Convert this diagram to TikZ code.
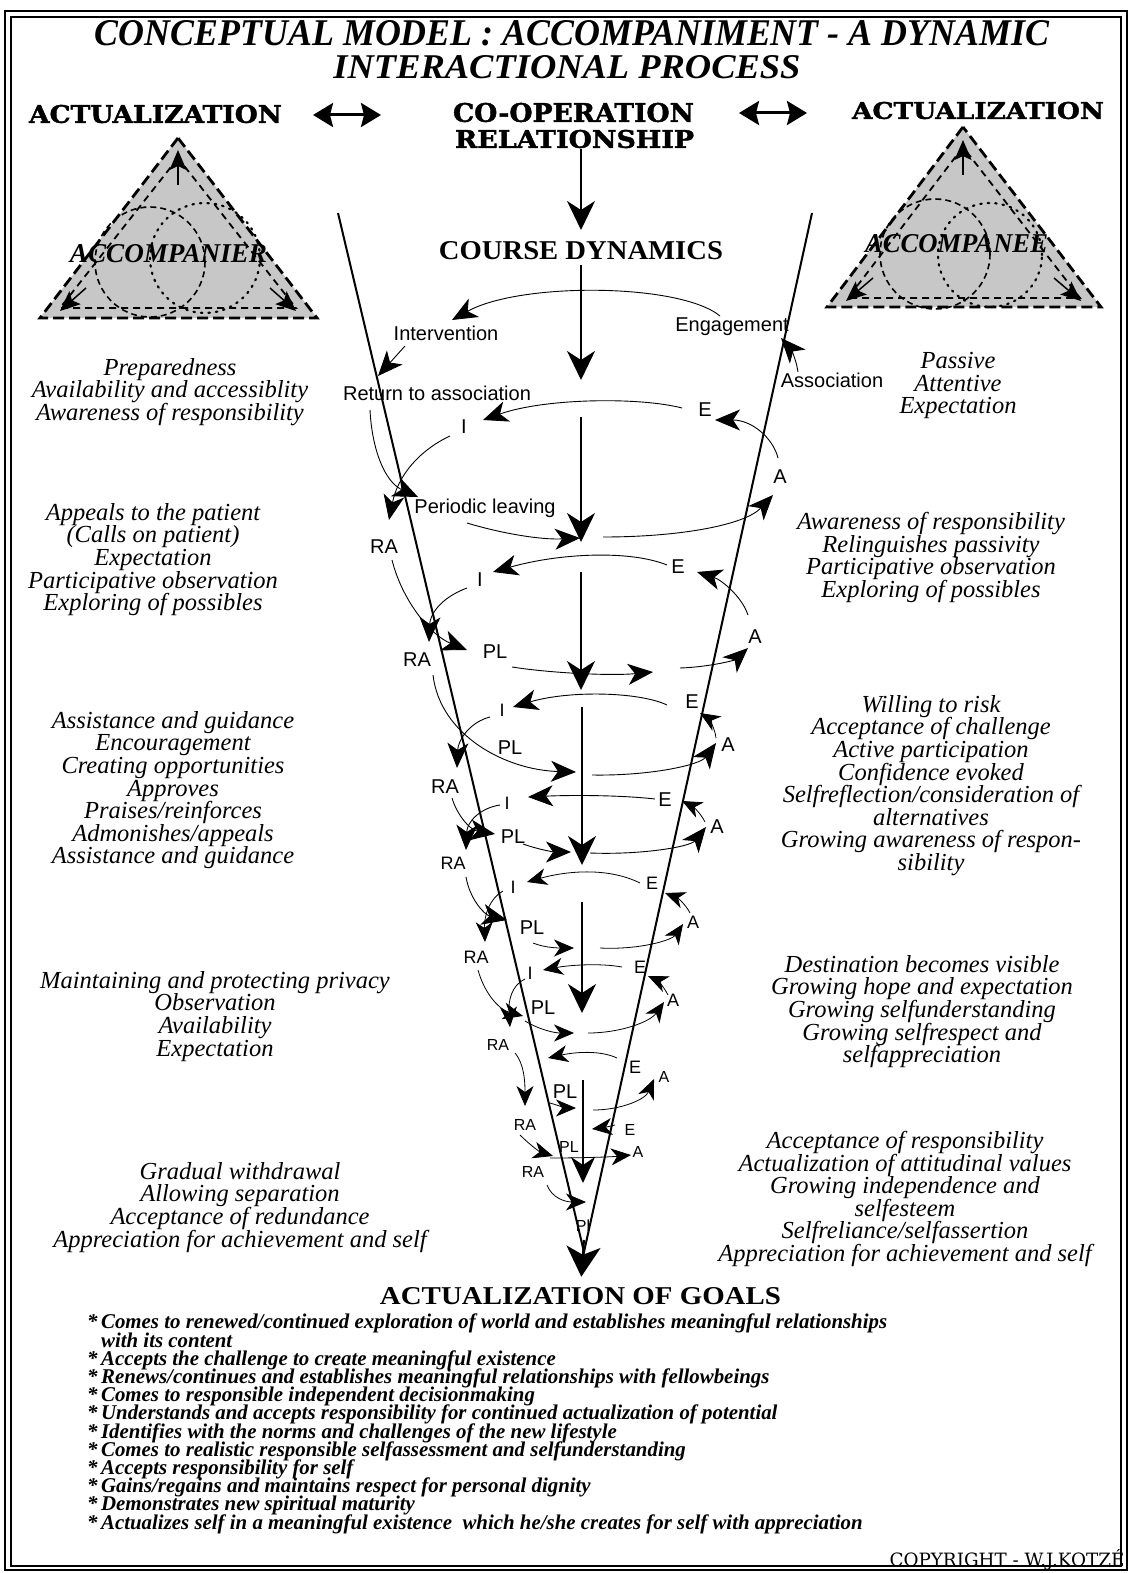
\documentclass[tikz,border=0pt]{standalone}
\usepackage{fontspec}
\usepackage{graphicx}
\setmainfont{Liberation Serif}
\newfontfamily\sansf{Liberation Sans}
\newfontfamily\slabf{DejaVu Serif}
\newfontfamily\heavyf{DejaVu Serif Bold}[FakeBold=1.5]
\usetikzlibrary{arrows.meta}
\newcommand{\fitbox}[3]{\resizebox{#1pt}{#2pt}{#3}}
\tikzset{
 lab/.style={font=\sansf\fontsize{20}{20}\selectfont, inner sep=0pt},
 labm/.style={font=\sansf\fontsize{18}{18}\selectfont, inner sep=0pt},
 labs/.style={font=\sansf\fontsize{16}{16}\selectfont, inner sep=0pt},
 itxt/.style={font=\itshape\fontsize{24.5}{22.6}\selectfont, align=center, inner sep=0pt, anchor=north},
 fitnode/.style={inner sep=0pt},
 la/.style={line width=0.9pt, -{Stealth[length=25pt,width=21pt,inset=7pt]}},
 lb/.style={line width=0.8pt, -{Stealth[length=20pt,width=17pt,inset=6pt]}},
 va/.style={line width=2pt, -{Stealth[length=29pt,width=28pt,inset=9pt]}},
 dbl/.style={line width=3pt, {Stealth[length=20pt,width=24pt,inset=3pt]}-{Stealth[length=20pt,width=24pt,inset=3pt]}},
 coneline/.style={line width=2pt},
 tri/.style={fill=black!22, draw=black, line width=2.8pt, dash pattern=on 11pt off 5pt},
 itri/.style={draw=black, line width=1.8pt, dash pattern=on 7pt off 5pt},
 dcirc/.style={draw=black, line width=1.6pt, dash pattern=on 6pt off 4pt},
 pcirc/.style={draw=black, line width=2.2pt, dash pattern=on 1.5pt off 6pt, line cap=round},
 cornerarr/.style={line width=1.5pt, -{Stealth[length=20pt,width=17pt,inset=4pt]}},
}
\begin{document}
\begin{tikzpicture}[x=1pt,y=-1pt]
\useasboundingbox (0,0) rectangle (1128,1573);
\fill[white] (0,0) rectangle (1128,1573);
% frame
\draw[line width=2.4pt] (5,11) rectangle (1127,1570);
\draw[line width=1.2pt] (11,17) rectangle (1121,1566);

% ---------- titles ----------
\node[fitnode] (title1) at (572,33) {\fitbox{954}{25}{\bfseries\itshape CONCEPTUAL MODEL : ACCOMPANIMENT - A DYNAMIC}};
\node[fitnode] (title2) at (567,67.5) {\fitbox{467}{23}{\bfseries\itshape INTERACTIONAL PROCESS}};
\node[fitnode] (actL) at (155.5,114) {\fitbox{253}{18}{\heavyf ACTUALIZATION}};
\node[fitnode] (actR) at (978,110.5) {\fitbox{252}{17}{\heavyf ACTUALIZATION}};
\node[fitnode] (coop1) at (573.5,112.5) {\fitbox{241}{19}{\heavyf CO-OPERATION}};
\node[fitnode] (coop2) at (574.5,139) {\fitbox{239}{18}{\heavyf RELATIONSHIP}};
\node[fitnode] (cd) at (581,250.5) {\fitbox{284}{18}{\bfseries COURSE DYNAMICS}};
\coordinate (dl1) at (313,115); \coordinate (dl2) at (381,115);
\coordinate (dr1) at (739,113); \coordinate (dr2) at (807,113);
\draw[dbl] (dl1) -- (dl2);
\draw[dbl] (dr1) -- (dr2);

% ---------- triangles ----------
\path[tri] (178,138) -- (40,318) -- (317,318) -- cycle;
\draw[itri] (178,158) -- (60,308) -- (296,308) -- cycle;
\draw[dcirc] (150,262) circle[radius=55pt];
\draw[pcirc] (205,258) circle[radius=55pt];
\draw[cornerarr] (178,185) -- (178,150);
\draw[cornerarr] (86,288) -- (60,311);
\draw[cornerarr] (270,288) -- (296,311);
\node[fitnode] (accL) at (168.5,254) {\fitbox{197}{18}{\bfseries\itshape ACCOMPANIER}};

\path[tri] (963,127) -- (827,307) -- (1101,307) -- cycle;
\draw[itri] (963,147) -- (848,298) -- (1080,298) -- cycle;
\draw[dcirc] (935,254) circle[radius=55pt];
\draw[pcirc] (990,255) circle[radius=52pt];
\draw[cornerarr] (963,175) -- (963,140);
\draw[cornerarr] (873,278) -- (846,301);
\draw[cornerarr] (1054,278) -- (1081,301);
\node[fitnode] (accR) at (956.5,244) {\fitbox{183}{18}{\bfseries\itshape ACCOMPANEE}};

% ---------- cone and centre arrows ----------
\coordinate (cl) at (338,213); \coordinate (cr) at (812,213);
\coordinate (apex) at (584,1252); \coordinate (apexb) at (584,1240);
\draw[coneline] (cl) -- (apex) -- (cr);
\coordinate (v0a) at (581,149); \coordinate (v0b) at (581,230);
\draw[va] (v0a) -- (v0b);
\coordinate (v1a) at (581,265); \coordinate (v1b) at (581,380);
\coordinate (v2a) at (581,417); \coordinate (v2b) at (581,542);
\coordinate (v3a) at (581,572); \coordinate (v3b) at (581,690);
\coordinate (v4a) at (582,707); \coordinate (v4b) at (582,865);
\coordinate (v5a) at (582,902); \coordinate (v5b) at (582,1013);
\coordinate (v6a) at (583,1080); \coordinate (v6b) at (583,1183);
\draw[va] (v1a) -- (v1b);
\draw[va] (v2a) -- (v2b);
\draw[va] (v3a) -- (v3b);
\draw[va,line width=1.5pt] (v4a) -- (v4b);
\draw[va,line width=1.5pt] (v5a) -- (v5b);
\draw[va,line width=1.5pt,-{Stealth[length=26pt,width=24pt,inset=8pt]}] (v6a) -- (v6b);

% ---------- labels ----------
\node[lab] (intv) at (446,333) {Intervention};
\node[lab] (eng) at (732,327) {Engagement};
\node[lab] (assoc) at (832,380) {Association};
\node[lab] (ret) at (437,393) {Return to association};
\node[lab] (pleave) at (485,508) {Periodic leaving};

\node[lab] (E1) at (705,410) {E};
\node[lab] (I1) at (464,427) {I};
\node[lab] (A1) at (780,477) {A};
\node[lab] (RA1) at (384,547) {RA};
\node[lab] (E2) at (678,567) {E};
\node[lab] (I2) at (480,580) {I};
\node[lab] (A2) at (755,637) {A};
\node[lab] (PL2) at (495,652) {PL};
\node[lab] (RA2) at (417,660) {RA};
\node[lab] (E3) at (692,702) {E};
\node[labm] (I3) at (502,710) {I};
\node[lab] (A3) at (728,745) {A};
\node[lab] (PL3) at (510,748) {PL};
\node[lab] (RA3) at (445,787) {RA};
\node[lab] (E4) at (665,800) {E};
\node[labm] (I4) at (507,803) {I};
\node[lab] (A4) at (717,827) {A};
\node[lab] (PL4) at (513,837) {PL};
\node[labm] (RA4) at (453,863) {RA};
\node[labm] (E5) at (652,883) {E};
\node[labm] (I5) at (513,887) {I};
\node[labm] (A5) at (693,922) {A};
\node[lab] (PL5) at (532,928) {PL};
\node[labm] (RA5) at (476,957) {RA};
\node[labm] (E6) at (640,967) {E};
\node[labm] (I6) at (530,973) {I};
\node[labm] (A6) at (673,1000) {A};
\node[lab] (PL6) at (543,1008) {PL};
\node[labs] (RA6) at (498,1045) {RA};
\node[labm] (E7) at (635,1067) {E};
\node[labs] (A7) at (664,1077) {A};
\node[lab] (PL7) at (565,1092) {PL};
\node[labs] (RA7) at (525,1125) {RA};
\node[labs] (E8) at (630,1130) {E};
\node[labs] (A8) at (638,1152) {A};
\node[labs] (PL8) at (569,1147) {PL};
\node[labs] (RA8) at (533,1172) {RA};
\node[labs] (PL9) at (583,1226) {Pl};

% ---------- loop arrows ----------
% level 0
\coordinate (k0a) at (720,316); \coordinate (k0b) at (452,320);
\coordinate (k0c) at (405,346); \coordinate (k0d) at (378,376);
\coordinate (k0e) at (798,372); \coordinate (k0f) at (781,338);
\coordinate (k0g) at (370,410); \coordinate (k0h) at (418,497);
\coordinate (k0i) at (467,523); \coordinate (c1) at (580,538);
\draw[la] (k0a) .. controls (680,283) and (520,282) .. (k0b);
\draw[la] (k0c) -- (k0d);
\draw[la] (k0e) .. controls (796,358) and (790,348) .. (k0f);
\draw[la] (k0g) .. controls (372,450) and (385,482) .. (k0h);
\draw[la] (k0i) .. controls (500,533) and (540,540) .. (c1);
% level 1
\coordinate (k1a) at (682,408); \coordinate (k1b) at (483,420);
\coordinate (k1c) at (450,436); \coordinate (k1d) at (389,520);
\coordinate (k1e) at (778,458); \coordinate (k1f) at (715,420);
\coordinate (k1g) at (603,537); \coordinate (k1h) at (773,495);
\coordinate (k1i) at (392,560); \coordinate (k1j) at (467,650);
\draw[la] (k1a) .. controls (640,397) and (545,398) .. (k1b);
\draw[la] (k1c) .. controls (420,450) and (398,475) .. (k1d);
\draw[la] (k1e) .. controls (773,438) and (752,420) .. (k1f);
\draw[la] (k1g) .. controls (680,537) and (745,525) .. (k1h);
\draw[la] (k1i) .. controls (402,600) and (430,635) .. (k1j);
% level 2
\coordinate (k2a) at (667,565); \coordinate (k2b) at (493,572);
\coordinate (k2c) at (467,588); \coordinate (k2d) at (429,642);
\coordinate (k2e) at (748,615); \coordinate (k2f) at (697,572);
\coordinate (k2g) at (512,667); \coordinate (c2) at (653,672);
\coordinate (k2h) at (680,668); \coordinate (k2i) at (748,648);
\coordinate (k2j) at (433,675); \coordinate (c3) at (576,772);
\draw[la] (k2a) .. controls (630,550) and (560,553) .. (k2b);
\draw[la] (k2c) .. controls (440,598) and (430,615) .. (k2d);
\draw[la] (k2e) .. controls (742,597) and (722,580) .. (k2f);
\draw[la] (k2g) .. controls (550,673) and (610,676) .. (c2);
\draw[la] (k2h) .. controls (710,667) and (735,660) .. (k2i);
\draw[la] (k2j) .. controls (440,735) and (505,770) .. (c3);
% level 3
\coordinate (k3a) at (667,705); \coordinate (k3b) at (513,707);
\coordinate (k3c) at (490,717); \coordinate (k3d) at (457,768);
\coordinate (k3e) at (716,738); \coordinate (k3f) at (700,713);
\coordinate (k3g) at (592,775); \coordinate (k3h) at (716,743);
\coordinate (k3i) at (452,798); \coordinate (k3j) at (495,834);
\draw[la] (k3a) .. controls (640,692) and (570,690) .. (k3b);
\draw[la] (k3c) .. controls (470,722) and (458,740) .. (k3d);
\draw[lb] (k3e) .. controls (715,728) and (708,718) .. (k3f);
\draw[la] (k3g) .. controls (650,776) and (700,765) .. (k3h);
\draw[la] (k3i) .. controls (457,815) and (470,830) .. (k3j);
% level 4
\coordinate (k4a) at (655,799); \coordinate (k4b) at (528,797);
\coordinate (k4c) at (500,805); \coordinate (k4d) at (466,850);
\coordinate (k4e) at (705,822); \coordinate (k4f) at (682,801);
\coordinate (k4g) at (523,844); \coordinate (c4) at (571,852);
\coordinate (k4h) at (590,853); \coordinate (k4i) at (706,827);
\coordinate (k4j) at (466,877); \coordinate (k4k) at (507,920);
\draw[la] (k4a) .. controls (620,795) and (570,795) .. (k4b);
\draw[la] (k4c) .. controls (480,808) and (467,822) .. (k4d);
\draw[lb] (k4e) .. controls (700,812) and (692,806) .. (k4f);
\draw[la] (k4g) .. controls (540,850) and (555,852) .. (c4);
\draw[la] (k4h) .. controls (640,855) and (690,847) .. (k4i);
\draw[la] (k4j) .. controls (470,900) and (485,915) .. (k4k);
% level 5
\coordinate (k5a) at (640,883); \coordinate (k5b) at (527,882);
\coordinate (k5c) at (503,891); \coordinate (k5d) at (485,942);
\coordinate (k5e) at (690,913); \coordinate (k5f) at (665,893);
\coordinate (k5g) at (533,943); \coordinate (c5) at (574,948);
\coordinate (k5h) at (600,948); \coordinate (k5i) at (683,924);
\coordinate (k5j) at (478,970); \coordinate (k5k) at (523,1016);
\draw[lb] (k5a) .. controls (610,868) and (570,870) .. (k5b);
\draw[lb] (k5c) .. controls (490,898) and (484,915) .. (k5d);
\draw[lb] (k5e) .. controls (686,905) and (678,898) .. (k5f);
\draw[lb] (k5g) .. controls (545,948) and (560,948) .. (c5);
\draw[lb] (k5h) .. controls (640,950) and (672,940) .. (k5i);
\draw[lb] (k5j) .. controls (485,995) and (500,1010) .. (k5k);
% level 6
\coordinate (k6a) at (622,967); \coordinate (k6b) at (543,970);
\coordinate (k6c) at (525,979); \coordinate (k6d) at (510,1027);
\coordinate (k6e) at (668,995); \coordinate (k6f) at (648,976);
\coordinate (k6g) at (525,1021); \coordinate (c6) at (574,1033);
\coordinate (k6h) at (588,1033); \coordinate (k6i) at (664,1002);
\coordinate (k6j) at (515,1053); \coordinate (k6k) at (525,1106);
\draw[lb] (k6a) .. controls (600,963) and (570,965) .. (k6b);
\draw[lb] (k6c) .. controls (512,985) and (508,1000) .. (k6d);
\draw[lb] (k6e) .. controls (664,987) and (657,980) .. (k6f);
\draw[lb] (k6g) .. controls (540,1030) and (555,1033) .. (c6);
\draw[lb] (k6h) .. controls (620,1033) and (650,1022) .. (k6i);
\draw[lb] (k6j) .. controls (525,1065) and (525,1085) .. (k6k);
% level 7
\coordinate (k7a) at (617,1058); \coordinate (k7b) at (548,1058);
\coordinate (k7c) at (550,1103); \coordinate (c7) at (576,1108);
\coordinate (k7d) at (593,1110); \coordinate (k7e) at (654,1079);
\coordinate (k7f) at (520,1135); \coordinate (k7g) at (553,1156);
\draw[lb] (k7a) .. controls (600,1050) and (575,1052) .. (k7b);
\draw[lb] (k7c) .. controls (560,1106) and (566,1108) .. (c7);
\draw[lb] (k7d) .. controls (620,1110) and (645,1100) .. (k7e);
\draw[lb] (k7f) .. controls (530,1145) and (540,1152) .. (k7g);
% level 8
\coordinate (k8a) at (615,1125); \coordinate (k8b) at (592,1129);
\coordinate (k8c) at (550,1158); \coordinate (k8d) at (631,1155);
\coordinate (k8e) at (547,1185); \coordinate (k8f) at (586,1202);
\draw[lb] (k8a) .. controls (608,1127) and (600,1128) .. (k8b);
\draw[lb] (k8c) .. controls (580,1158) and (610,1157) .. (k8d);
\draw[lb] (k8e) .. controls (552,1198) and (565,1202) .. (k8f);

% ---------- side texts ----------
\node[itxt] (L1) at (170,358) {Preparedness\\Availability and accessiblity\\Awareness of responsibility};
\node[itxt] (R1) at (958,352) {Passive\\Attentive\\Expectation};
\node[itxt] (L2) at (153,503) {Appeals to the patient\\(Calls on patient)\\Expectation\\Participative observation\\Exploring of possibles};
\node[itxt] (R2) at (931,512) {Awareness of responsibility\\Relinguishes passivity\\Participative observation\\Exploring of possibles};
\node[itxt] (L3) at (173,711) {Assistance and guidance\\Encouragement\\Creating opportunities\\Approves\\Praises/reinforces\\Admonishes/appeals\\Assistance and guidance};
\node[itxt] (R3) at (931,695) {Willing to risk\\Acceptance of challenge\\Active participation\\Confidence evoked\\Selfreflection/consideration of\\alternatives\\Growing awareness of respon-\\sibility};
\node[itxt] (L4) at (215,971) {Maintaining and protecting privacy\\Observation\\Availability\\Expectation};
\node[itxt] (R4) at (922,955) {Destination becomes visible\\Growing hope and expectation\\Growing selfunderstanding\\Growing selfrespect and\\selfappreciation};
\node[itxt] (L5) at (240,1162) {Gradual withdrawal\\Allowing separation\\Acceptance of redundance\\Appreciation for achievement and self};
\node[itxt] (R5) at (905,1131) {Acceptance of responsibility\\Actualization of attitudinal values\\Growing independence and\\selfesteem\\Selfreliance/selfassertion\\Appreciation for achievement and self};

% ---------- goals ----------
\node[fitnode] (goalhd) at (580.5,1296.5) {\fitbox{401}{17}{\bfseries ACTUALIZATION OF GOALS}};
\draw[va,-{Stealth[length=30pt,width=34pt,inset=8pt]},shorten >=11pt] (apexb) -- (goalhd.north);
\node[fitnode, anchor=base west] (goals) at (87,1529) {\resizebox{800pt}{\height}{\vbox{\fontsize{21}{18.2}\selectfont\bfseries\itshape\lineskiplimit=-100pt
\hbox{\hbox to 14pt{*\hss}Comes to renewed/continued exploration of world and establishes meaningful relationships}
\hbox{\hbox to 14pt{\hss}with its content}
\hbox{\hbox to 14pt{*\hss}Accepts the challenge to create meaningful existence}
\hbox{\hbox to 14pt{*\hss}Renews/continues and establishes meaningful relationships with fellowbeings}
\hbox{\hbox to 14pt{*\hss}Comes to responsible independent decisionmaking}
\hbox{\hbox to 14pt{*\hss}Understands and accepts responsibility for continued actualization of potential}
\hbox{\hbox to 14pt{*\hss}Identifies with the norms and challenges of the new lifestyle}
\hbox{\hbox to 14pt{*\hss}Comes to realistic responsible selfassessment and selfunderstanding}
\hbox{\hbox to 14pt{*\hss}Accepts responsibility for self}
\hbox{\hbox to 14pt{*\hss}Gains/regains and maintains respect for personal dignity}
\hbox{\hbox to 14pt{*\hss}Demonstrates new spiritual maturity}
\hbox{\hbox to 14pt{*\hss}Actualizes self in a meaningful existence\ \ which he/she creates for self with appreciation}}}};
\node[fitnode, anchor=base] (copy) at (1007,1566) {\fitbox{235}{17}{\slabf COPYRIGHT - W.J.KOTZÉ}};
\end{tikzpicture}
\end{document}
